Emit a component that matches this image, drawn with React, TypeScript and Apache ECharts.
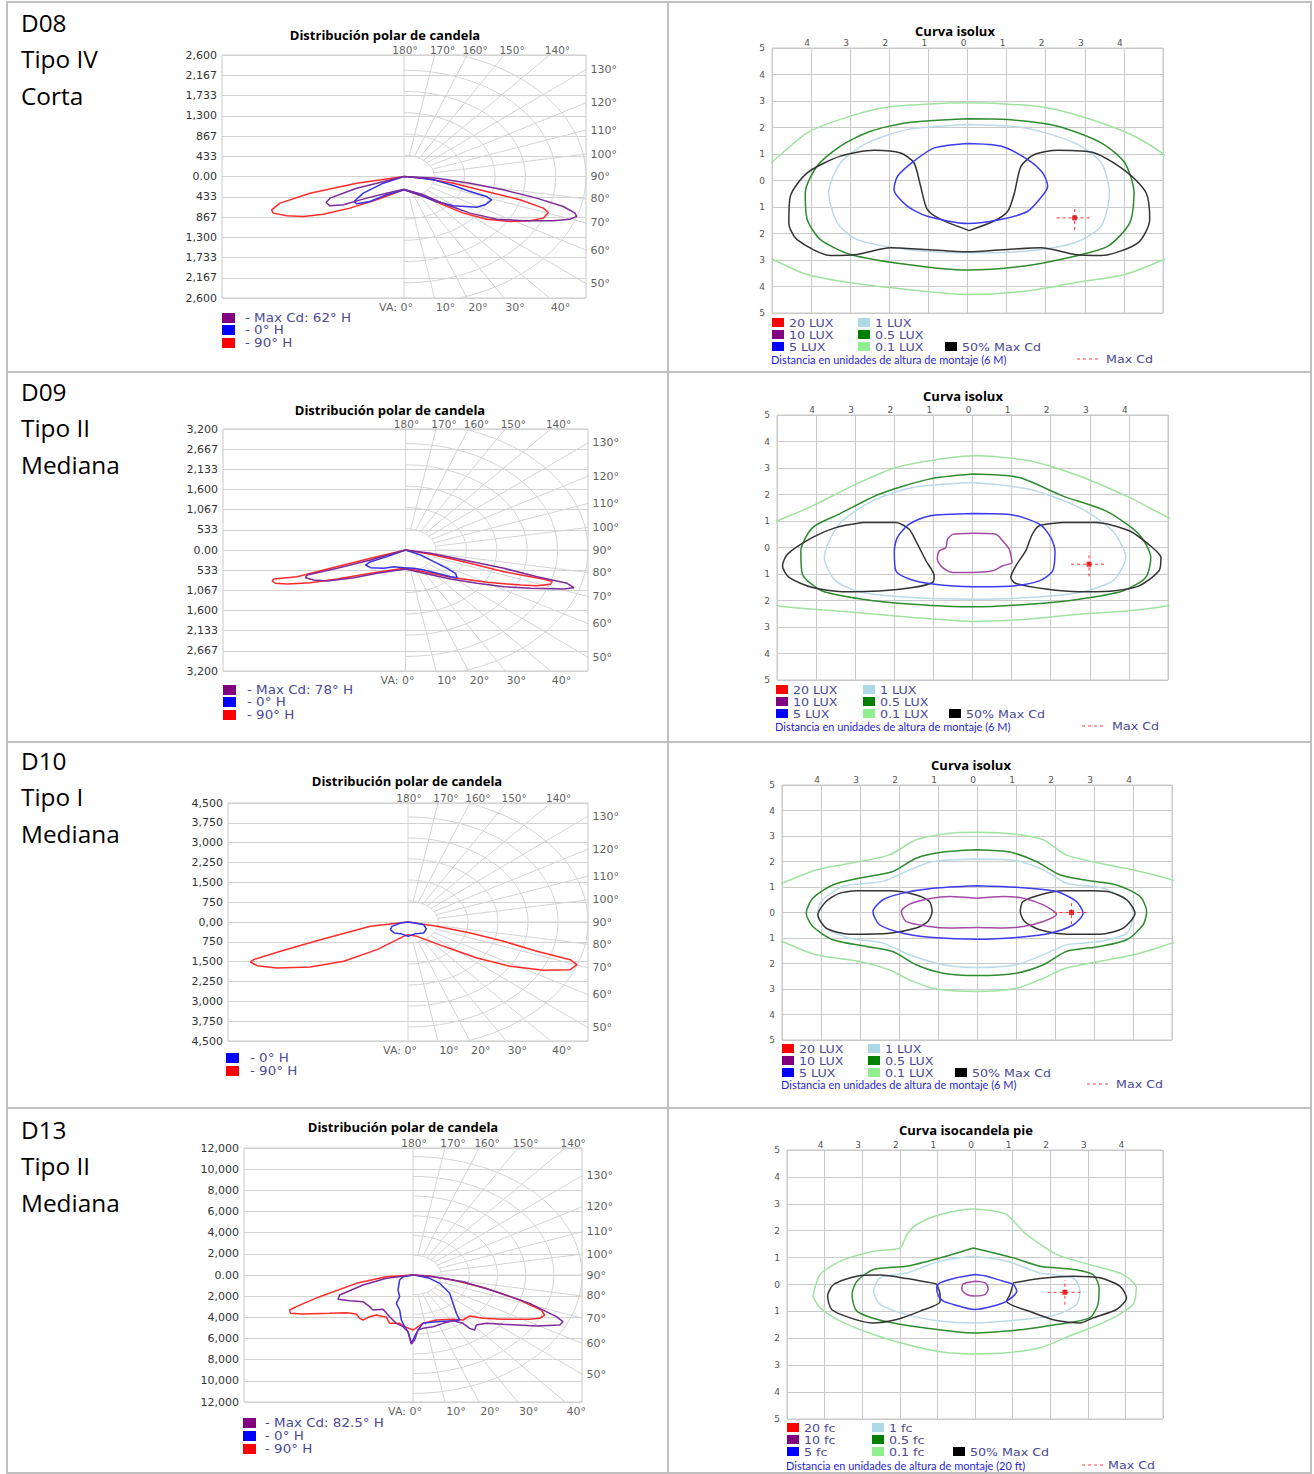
import React, { useEffect, useRef } from "react";
import * as echarts from "echarts";

type Pt = [number, number];

// ---------------- Row labels ----------------
const rowLabels: string[][] = [
  ["D08", "Tipo IV", "Corta"],
  ["D09", "Tipo II", "Mediana"],
  ["D10", "Tipo I", "Mediana"],
  ["D13", "Tipo II", "Mediana"],
];

// ---------------- Polar candela tick labels (top to bottom) ----------------
const d08CdTicks = ["2,600", "2,167", "1,733", "1,300", "867", "433", "0.00", "433", "867", "1,300", "1,733", "2,167", "2,600"];
const d09CdTicks = ["3,200", "2,667", "2,133", "1,600", "1,067", "533", "0.00", "533", "1,067", "1,600", "2,133", "2,667", "3,200"];
const d10CdTicks = ["4,500", "3,750", "3,000", "2,250", "1,500", "750", "0,00", "750", "1,500", "2,250", "3,000", "3,750", "4,500"];
const d13CdTicks = ["12,000", "10,000", "8,000", "6,000", "4,000", "2,000", "0.00", "2,000", "4,000", "6,000", "8,000", "10,000", "12,000"];

const polarBottomAngles = [0, 10, 20, 30, 40];
const polarTopAngles = [180, 170, 160, 150, 140];
const polarRightAngles = [130, 120, 110, 100, 90, 80, 70, 60, 50];

// ---------------- Polar curves (horizontal cd, vertical cd) ----------------
const d08Polar90: Pt[] = [[0,0],[-710,-143],[-1410,-357],[-1860,-570],[-1985,-713],[-1960,-784],[-1760,-841],[-1510,-856],[-1210,-806],[-810,-677],[-410,-499],[0,-285],[290,-428],[590,-606],[890,-784],[1240,-913],[1590,-963],[1890,-948],[2090,-891],[2165,-770],[2090,-677],[1740,-499],[1240,-321],[740,-143],[290,-36],[0,0]];
const d08PolarMax: Pt[] = [[0,0],[-710,-250],[-1110,-463],[-1170,-556],[-1110,-627],[-910,-606],[-560,-463],[-260,-357],[0,-271],[290,-392],[640,-606],[990,-784],[1390,-913],[1790,-948],[2240,-948],[2490,-913],[2590,-856],[2565,-784],[2390,-642],[1990,-463],[1490,-285],[990,-143],[490,-36],[0,0]];
const d08Polar0: Pt[] = [[0,0],[-310,-143],[-610,-357],[-750,-535],[-710,-585],[-510,-535],[-260,-392],[0,-285],[240,-392],[490,-535],[740,-627],[1090,-656],[1215,-606],[1315,-499],[1240,-428],[990,-321],[740,-193],[440,-71],[140,-14],[0,0]];

const d09Polar90: Pt[] = [[0,0],[-648,-220],[-1388,-485],[-2005,-705],[-2437,-767],[-2468,-820],[-2406,-882],[-2190,-899],[-1758,-864],[-1265,-767],[-648,-617],[0,-476],[339,-573],[895,-732],[1512,-855],[2129,-926],[2437,-943],[2684,-908],[2715,-837],[2561,-776],[1820,-573],[1080,-309],[463,-115],[0,0]];
const d09PolarMax: Pt[] = [[0,0],[-648,-264],[-1265,-485],[-1820,-661],[-1851,-732],[-1697,-793],[-1450,-820],[-956,-732],[-524,-617],[0,-502],[339,-617],[833,-767],[1327,-882],[1820,-970],[2314,-1014],[2931,-1031],[3116,-996],[2992,-882],[2437,-705],[1820,-485],[1080,-264],[463,-88],[0,0]];
const d09Polar0: Pt[] = [[0,0],[-339,-176],[-648,-309],[-740,-397],[-648,-467],[-401,-485],[-216,-441],[-31,-467],[154,-485],[339,-529],[586,-617],[833,-705],[956,-732],[925,-617],[771,-485],[524,-309],[278,-132],[0,0]];

const d10Polar90: Pt[] = [[0,0],[-997,-164],[-2320,-668],[-3378,-1109],[-4084,-1424],[-4172,-1512],[-3995,-1651],[-3466,-1739],[-2584,-1701],[-1702,-1487],[-820,-1046],[-115,-542],[0,-479],[238,-542],[944,-920],[1826,-1361],[2708,-1676],[3590,-1827],[4295,-1802],[4472,-1613],[4295,-1424],[3413,-1109],[2531,-731],[1649,-416],[767,-164],[0,0]];
const d10Polar0: Pt[] = [[0,0],[-203,-38],[-423,-164],[-467,-290],[-362,-416],[-203,-441],[0,-542],[194,-441],[415,-416],[485,-265],[415,-101],[194,-38],[0,0]];

const d13Polar90: Pt[] = [[0,0],[-1764,-158],[-3749,-788],[-6174,-2048],[-7718,-2993],[-8159,-3308],[-8114,-3623],[-7277,-3686],[-5513,-3623],[-4410,-3560],[-3749,-3686],[-3528,-4095],[-3308,-4253],[-2867,-3938],[-2426,-3780],[-1764,-4001],[-1544,-4568],[-882,-4568],[-551,-4883],[0,-5198],[662,-4568],[1544,-4253],[2646,-4190],[3308,-4253],[3749,-3875],[4631,-4095],[5954,-4190],[7718,-4190],[8379,-4095],[8710,-3780],[8489,-3308],[7056,-2363],[4851,-1260],[2646,-473],[1103,-95],[0,0]];
const d13PolarMax: Pt[] = [[0,0],[-1764,-315],[-3308,-945],[-4851,-1890],[-4961,-2300],[-4190,-2426],[-3308,-2520],[-2867,-2993],[-2646,-3308],[-1985,-3245],[-1544,-3938],[-1103,-4568],[-662,-4883],[-331,-5355],[-110,-6521],[110,-6143],[331,-5198],[662,-5040],[1323,-4883],[1985,-4568],[2646,-4316],[3308,-4568],[3749,-5040],[4079,-5198],[4190,-4725],[4851,-4568],[5954,-4662],[8159,-4820],[9702,-4725],[9923,-4410],[9482,-3938],[7718,-2678],[5513,-1575],[3308,-630],[1323,-158],[0,0]];
const d13Polar0: Pt[] = [[0,0],[-662,-158],[-882,-473],[-992,-1418],[-882,-2048],[-1103,-2678],[-882,-3308],[-772,-4253],[-551,-4883],[-331,-5355],[-110,-6458],[110,-5828],[331,-5198],[662,-4568],[1544,-4410],[2646,-4316],[3087,-4253],[2867,-3623],[2646,-2678],[2426,-1733],[1764,-788],[1103,-315],[331,-63],[0,0]];

// ---------------- Isolux tick labels ----------------
const isoXTicks = ["", "4", "3", "2", "1", "0", "1", "2", "3", "4", ""]; // value -5..5
const isoYTicks = ["5", "4", "3", "2", "1", "0", "1", "2", "3", "4", "5"]; // value 5..-5

// ---------------- Isolux contours (mounting heights) ----------------
const d08Iso01: Pt[] = [[-5.4,0.4],[-4.98,0.73],[-4.10,1.80],[-2.99,2.43],[-1.97,2.78],[0,2.93],[1.88,2.78],[3.16,2.30],[4.27,1.67],[5.03,0.98],[5.4,0.5],[5.4,-2.7],[5.03,-2.98],[4.02,-3.55],[2.74,-3.86],[1.45,-4.18],[0,-4.30],[-1.54,-4.11],[-2.99,-3.86],[-4.10,-3.55],[-4.98,-2.98],[-5.4,-2.7]];
const d08Iso05: Pt[] = [[0,2.33],[-1.54,2.18],[-2.5,1.85],[-3.25,1.30],[-3.85,0.54],[-4.15,-0.47],[-4.10,-1.47],[-3.76,-2.23],[-2.99,-2.79],[-1.54,-3.17],[0,-3.38],[1.45,-3.23],[2.74,-2.86],[3.59,-2.48],[4.15,-1.60],[4.26,-0.47],[4.02,0.67],[3.42,1.42],[2.31,2.05],[1.03,2.30]];
const d08Iso1: Pt[] = [[0,2.11],[-1.54,1.92],[-2.56,1.42],[-3.25,0.67],[-3.55,-0.47],[-3.33,-1.60],[-2.82,-2.23],[-1.54,-2.60],[0,-2.73],[1.45,-2.67],[2.74,-2.35],[3.42,-1.72],[3.63,-0.47],[3.42,0.67],[2.74,1.42],[1.45,1.99]];
const d08IsoHalf: Pt[] = [[0.04,-1.89],[-0.68,-1.47],[-1.03,-1.09],[-1.20,-0.21],[-1.37,0.67],[-1.71,1.04],[-2.39,1.14],[-3.25,0.92],[-4.10,0.29],[-4.53,-0.59],[-4.57,-1.60],[-4.36,-2.23],[-3.50,-2.83],[-2.82,-2.79],[-1.97,-2.54],[-1.11,-2.60],[0,-2.69],[1.03,-2.60],[1.88,-2.54],[2.74,-2.79],[3.42,-2.83],[4.36,-2.35],[4.66,-1.47],[4.57,-0.47],[4.10,0.29],[3.25,1.04],[2.31,1.14],[1.71,0.98],[1.37,0.54],[1.20,-0.47],[1.03,-1.16],[0.68,-1.53]];
const d08Iso5: Pt[] = [[0,1.40],[-0.85,1.23],[-1.37,0.73],[-1.79,0.16],[-1.88,-0.34],[-1.54,-0.97],[-1.03,-1.35],[0,-1.62],[0.85,-1.47],[1.54,-1.16],[1.97,-0.47],[2.05,-0.21],[1.92,0.29],[1.54,0.79],[0.85,1.30]];
const d08MaxCd: Pt = [2.74, -1.41];

const d09Iso01: Pt[] = [[-5.4,0.8],[-4.99,1.01],[-4.09,1.57],[-2.98,2.39],[-1.96,3.02],[-0.68,3.37],[0.17,3.46],[1.45,3.27],[2.73,2.70],[4.01,1.89],[5.01,1.13],[5.4,0.9],[5.4,-2.0],[5.01,-2.20],[4.01,-2.39],[2.73,-2.52],[1.45,-2.70],[0,-2.79],[-1.53,-2.64],[-2.98,-2.45],[-4.09,-2.33],[-4.99,-2.20],[-5.4,-2.0]];
const d09Iso05: Pt[] = [[0,2.77],[-1.11,2.58],[-2.39,2.01],[-3.41,1.26],[-4.09,0.75],[-4.39,-0.13],[-4.35,-1.01],[-3.84,-1.64],[-2.81,-1.95],[-1.53,-2.14],[0,-2.24],[1.45,-2.14],[2.73,-1.95],[3.84,-1.64],[4.43,-1.13],[4.56,-0.38],[4.26,0.50],[3.41,1.38],[2.30,1.95],[1.19,2.64]];
const d09Iso1: Pt[] = [[0,2.45],[-1.53,2.26],[-2.56,1.76],[-3.41,0.88],[-3.79,-0.38],[-3.50,-1.26],[-2.81,-1.70],[-1.53,-1.89],[0,-1.95],[1.45,-1.89],[2.73,-1.70],[3.58,-1.26],[3.92,-0.38],[3.58,0.63],[2.73,1.51],[1.45,2.20]];
const d09IsoHalfL: Pt[] = [[-2.81,0.94],[-1.96,0.94],[-1.62,0.69],[-1.45,0.25],[-1.19,-0.50],[-0.98,-1.07],[-1.02,-1.32],[-1.53,-1.51],[-2.39,-1.64],[-3.24,-1.67],[-4.09,-1.51],[-4.69,-1.13],[-4.86,-0.69],[-4.73,-0.25],[-4.09,0.38],[-3.50,0.75]];
const d09IsoHalfR: Pt[] = [[2.30,0.94],[1.71,0.82],[1.53,0.50],[1.36,-0.13],[1.11,-0.69],[0.98,-1.13],[1.11,-1.36],[1.88,-1.57],[2.73,-1.67],[3.58,-1.64],[4.26,-1.45],[4.77,-0.88],[4.82,-0.38],[4.60,0],[4.01,0.63],[3.15,0.94]];
const d09Iso5: Pt[] = [[0,1.28],[-1.11,1.19],[-1.62,0.88],[-1.92,0.38],[-2.00,-0.13],[-1.96,-0.88],[-1.62,-1.19],[-1.02,-1.38],[0,-1.48],[1.02,-1.45],[1.71,-1.26],[2.05,-0.88],[2.11,-0.13],[2.00,0.38],[1.71,0.88],[1.02,1.23]];
const d09Iso10: Pt[] = [[-0.51,0.50],[0,0.54],[0.60,0.50],[0.77,0.25],[0.94,-0.06],[1.01,-0.57],[0.77,-0.69],[0.51,-0.88],[0,-0.94],[-0.51,-0.94],[-0.77,-0.75],[-0.90,-0.44],[-0.85,-0.13],[-0.68,0],[-0.64,0.31]];
const d09MaxCd: Pt = [2.98, -0.63];

const d10Iso01: Pt[] = [[-5.4,1.0],[-5.01,1.15],[-4.13,1.67],[-3.01,2.00],[-2.24,2.26],[-1.56,2.85],[-0.70,3.11],[0,3.15],[1.01,3.07],[1.70,2.85],[2.29,2.26],[3.15,1.93],[4.01,1.67],[5.0,1.28],[5.4,1.0],[5.4,-1.0],[5.0,-1.20],[4.01,-1.66],[2.29,-2.18],[1.70,-2.58],[1.01,-2.97],[0,-3.10],[-1.13,-2.97],[-1.82,-2.58],[-2.24,-2.25],[-3.01,-1.92],[-4.13,-1.66],[-5.01,-1.14],[-5.4,-1.0]];
const d10Iso05: Pt[] = [[0,2.46],[-0.87,2.37],[-1.56,2.13],[-2.16,1.61],[-3.01,1.35],[-3.70,1.08],[-4.21,0.56],[-4.38,-0.03],[-4.21,-0.55],[-3.70,-1.07],[-2.84,-1.33],[-2.16,-1.53],[-1.56,-2.05],[-0.87,-2.38],[0,-2.47],[1.01,-2.38],[1.70,-2.05],[2.29,-1.53],[3.15,-1.33],[3.84,-1.07],[4.26,-0.48],[4.35,0.04],[4.18,0.63],[3.58,1.08],[2.72,1.28],[2.12,1.48],[1.52,2.00],[0.84,2.37]];
const d10Iso1: Pt[] = [[0,2.10],[-1.13,2.00],[-1.73,1.67],[-2.41,1.22],[-3.44,1.02],[-4.00,0.43],[-4.08,-0.09],[-3.87,-0.61],[-3.27,-1.01],[-2.41,-1.20],[-1.73,-1.66],[-0.87,-2.05],[0,-2.16],[1.01,-2.05],[1.70,-1.66],[2.29,-1.27],[3.15,-1.14],[3.84,-0.81],[4.01,-0.09],[3.88,0.43],[3.24,0.95],[2.29,1.15],[1.70,1.67],[1.01,2.03]];
const d10IsoHalfL: Pt[] = [[-3.10,0.85],[-2.24,0.85],[-1.56,0.69],[-1.22,0.43],[-1.15,0.04],[-1.26,-0.35],[-1.56,-0.61],[-2.24,-0.81],[-3.27,-0.85],[-3.87,-0.61],[-4.08,-0.09],[-3.87,0.43],[-3.53,0.75]];
const d10IsoHalfR: Pt[] = [[2.98,0.85],[2.21,0.85],[1.61,0.69],[1.18,0.43],[1.11,0.04],[1.22,-0.35],[1.61,-0.68],[2.29,-0.85],[3.15,-0.85],[3.75,-0.61],[4.05,-0.03],[3.84,0.50],[3.41,0.80]];
const d10Iso5: Pt[] = [[0,1.05],[-1.13,0.95],[-1.90,0.76],[-2.41,0.50],[-2.67,0.04],[-2.50,-0.48],[-1.90,-0.81],[-1.13,-0.98],[0,-1.05],[1.01,-0.98],[1.87,-0.81],[2.47,-0.48],[2.72,-0.03],[2.55,0.43],[2.04,0.82],[1.01,0.99]];
const d10Iso10: Pt[] = [[0,0.56],[-0.70,0.63],[-1.22,0.54],[-1.73,0.33],[-1.94,0.04],[-1.82,-0.35],[-1.22,-0.55],[-0.70,-0.61],[0,-0.59],[0.67,-0.61],[1.18,-0.55],[1.70,-0.35],[2.04,-0.07],[1.70,0.30],[1.18,0.56],[0.67,0.63]];
const d10MaxCd: Pt = [2.42, 0];

const d13Iso01: Pt[] = [[-4.31,-0.43],[-4.12,0.37],[-3.58,0.87],[-2.70,1.24],[-1.99,1.36],[-1.81,1.86],[-1.55,2.23],[-0.93,2.60],[-0.04,2.81],[0.49,2.73],[0.84,2.60],[1.11,2.23],[1.37,1.86],[2.17,1.12],[3.05,0.74],[3.94,0.37],[4.29,-0.12],[4.20,-0.74],[3.50,-1.36],[2.61,-1.86],[1.73,-2.35],[0.84,-2.54],[-0.04,-2.58],[-0.93,-2.50],[-1.81,-2.23],[-2.70,-1.86],[-3.58,-1.36],[-4.12,-0.87]];
const d13Iso05: Pt[] = [[-0.04,1.36],[-0.93,0.99],[-1.81,0.68],[-2.70,0.56],[-3.14,0.12],[-3.27,-0.37],[-3.14,-0.99],[-2.43,-1.36],[-1.37,-1.61],[-0.04,-1.80],[1.28,-1.67],[2.17,-1.49],[3.05,-1.24],[3.27,-0.74],[3.30,-0.12],[3.14,0.37],[2.61,0.56],[1.73,0.68],[1.02,0.99]];
const d13Iso1: Pt[] = [[-0.04,1.05],[-0.93,0.87],[-1.81,0.43],[-2.52,0.25],[-2.70,-0.25],[-2.52,-0.74],[-1.81,-1.12],[-0.93,-1.36],[-0.04,-1.43],[1.28,-1.30],[2.17,-1.12],[2.70,-0.74],[2.79,-0.25],[2.61,0.25],[1.73,0.43],[0.84,0.87]];
const d13IsoHalfL: Pt[] = [[-1.02,0.02],[-1.81,0.22],[-2.52,0.35],[-3.14,0.31],[-3.76,0],[-3.92,-0.43],[-3.81,-0.93],[-3.32,-1.24],[-2.74,-1.43],[-2.08,-1.30],[-1.46,-0.99],[-0.93,-0.64],[-0.93,-0.37]];
const d13IsoHalfR: Pt[] = [[1.02,0.06],[1.73,0.22],[2.61,0.31],[3.32,0.25],[3.85,-0.06],[4.03,-0.50],[3.76,-0.93],[3.14,-1.24],[2.79,-1.43],[2.17,-1.34],[1.55,-1.05],[0.84,-0.62],[0.93,-0.37]];
const d13Iso5: Pt[] = [[0,0.37],[-0.49,0.25],[-0.93,0.06],[-1.02,-0.12],[-0.97,-0.43],[-0.84,-0.62],[-0.58,-0.74],[0,-0.93],[0.49,-0.80],[0.84,-0.62],[1.11,-0.25],[1.02,0],[0.75,0.12],[0.31,0.31]];
const d13Iso10: Pt[] = [[0,0.12],[-0.31,0.02],[-0.35,-0.19],[-0.22,-0.37],[0,-0.43],[0.27,-0.37],[0.35,-0.15],[0.27,0.06]];
const d13MaxCd: Pt = [2.39, -0.29];

// ---------------- Legend labels ----------------
const luxLegend = ["20 LUX", "10 LUX", "5 LUX", "1 LUX", "0.5 LUX", "0.1 LUX", "50% Max Cd"];
const fcLegend = ["20 fc", "10 fc", "5 fc", "1 fc", "0.5 fc", "0.1 fc", "50% Max Cd"];

// ---------------- Styles ----------------
const C_RED = "#ff2a2a";
const C_BLUE = "#3434e6";
const C_PURPLE = "#7d2a9a";
const ISO = {
  c01: "#9fe39f",
  c05: "#2e8b2e",
  c1: "#b9dbe8",
  half: "#333333",
  c5: "#3b3bef",
  c10: "#a24aa6",
};
const LEG_SQ = ["#ff0000", "#800080", "#0000ff", "#add8e6", "#008000", "#90ee90", "#000000"];
const TXT_LEG = "#4a4a96";
const TITLE_FONT = "bold 13px 'Open Sans'";

const polarPanels = [
  { left: 222, top: 55, width: 364, height: 243, M: 2600, X: 2730, ticks: d08CdTicks,
    curves: [{ d: d08Polar90, c: C_RED }, { d: d08Polar0, c: C_BLUE }, { d: d08PolarMax, c: C_PURPLE }],
    legend: [{ t: "- Max Cd: 62° H", c: "#800080" }, { t: "- 0° H", c: "#0000ff" }, { t: "- 90° H", c: "#ff0000" }],
    legX: 222, legTX: 245, legY: [318, 330, 343], titleX: 385, titleY: 35 },
  { left: 223, top: 429, width: 365, height: 242, M: 3200, X: 3378, ticks: d09CdTicks,
    curves: [{ d: d09Polar90, c: C_RED }, { d: d09Polar0, c: C_BLUE }, { d: d09PolarMax, c: C_PURPLE }],
    legend: [{ t: "- Max Cd: 78° H", c: "#800080" }, { t: "- 0° H", c: "#0000ff" }, { t: "- 90° H", c: "#ff0000" }],
    legX: 223, legTX: 247, legY: [690, 702, 715], titleX: 390, titleY: 410 },
  { left: 228, top: 803, width: 360, height: 238, M: 4500, X: 4765, ticks: d10CdTicks,
    curves: [{ d: d10Polar90, c: C_RED }, { d: d10Polar0, c: C_BLUE }],
    legend: [{ t: "- 0° H", c: "#0000ff" }, { t: "- 90° H", c: "#ff0000" }],
    legX: 226, legTX: 250, legY: [1058, 1071], titleX: 407, titleY: 781 },
  { left: 244, top: 1148, width: 338, height: 254, M: 12000, X: 11180, ticks: d13CdTicks,
    curves: [{ d: d13Polar90, c: C_RED }, { d: d13Polar0, c: C_BLUE }, { d: d13PolarMax, c: C_PURPLE }],
    legend: [{ t: "- Max Cd: 82.5° H", c: "#800080" }, { t: "- 0° H", c: "#0000ff" }, { t: "- 90° H", c: "#ff0000" }],
    legX: 243, legTX: 265, legY: [1423, 1436, 1449], titleX: 403, titleY: 1127 },
];

const isoPanels = [
  { left: 772, top: 48, width: 391, height: 265, title: "Curva isolux", titleX: 955, titleY: 31,
    contours: [
      { d: d08Iso01, c: ISO.c01 }, { d: d08Iso1, c: ISO.c1 }, { d: d08Iso05, c: ISO.c05 },
      { d: d08IsoHalf, c: ISO.half }, { d: d08Iso5, c: ISO.c5 },
    ], maxCd: d08MaxCd, legend: luxLegend,
    legX: 772, legRows: [323, 335, 347], col2: 858, col3: 945, distY: 359, dashX: 1077, maxTX: 1106,
    dist: "Distancia en unidades de altura de montaje (6 M)" },
  { left: 777, top: 415, width: 391, height: 265, title: "Curva isolux", titleX: 963, titleY: 396,
    contours: [
      { d: d09Iso01, c: ISO.c01 }, { d: d09Iso1, c: ISO.c1 }, { d: d09Iso05, c: ISO.c05 },
      { d: d09IsoHalfL, c: ISO.half }, { d: d09IsoHalfR, c: ISO.half }, { d: d09Iso5, c: ISO.c5 }, { d: d09Iso10, c: ISO.c10 },
    ], maxCd: d09MaxCd, legend: luxLegend,
    legX: 776, legRows: [690, 702, 714], col2: 863, col3: 949, distY: 726, dashX: 1082, maxTX: 1112,
    dist: "Distancia en unidades de altura de montaje (6 M)" },
  { left: 782, top: 785, width: 390, height: 255, title: "Curva isolux", titleX: 971, titleY: 765,
    contours: [
      { d: d10Iso01, c: ISO.c01 }, { d: d10Iso1, c: ISO.c1 }, { d: d10Iso05, c: ISO.c05 },
      { d: d10IsoHalfL, c: ISO.half }, { d: d10IsoHalfR, c: ISO.half }, { d: d10Iso5, c: ISO.c5 }, { d: d10Iso10, c: ISO.c10 },
    ], maxCd: d10MaxCd, legend: luxLegend,
    legX: 782, legRows: [1049, 1061, 1073], col2: 868, col3: 955, distY: 1084, dashX: 1087, maxTX: 1116,
    dist: "Distancia en unidades de altura de montaje (6 M)" },
  { left: 787, top: 1150, width: 376, height: 269, title: "Curva isocandela pie", titleX: 966, titleY: 1130,
    contours: [
      { d: d13Iso01, c: ISO.c01 }, { d: d13Iso1, c: ISO.c1 }, { d: d13Iso05, c: ISO.c05 },
      { d: d13IsoHalfL, c: ISO.half }, { d: d13IsoHalfR, c: ISO.half }, { d: d13Iso5, c: ISO.c5 }, { d: d13Iso10, c: ISO.c10 },
    ], maxCd: d13MaxCd, legend: fcLegend,
    legX: 787, legRows: [1428, 1440, 1452], col2: 872, col3: 953, distY: 1465, dashX: 1082, maxTX: 1108,
    dist: "Distancia en unidades de altura de montaje (20 ft)" },
];

const rowTops = [23, 392, 761, 1130];
const tableRowLines = [2, 372, 742, 1108, 1473];
const tableColLines = [7, 668, 1311];

const rad = (d: number) => (d * Math.PI) / 180;

function polarGrid(M: number, X: number) {
  const data: any[] = [];
  const r1 = X / 6;
  for (let k = 1; k <= 6; k++) {
    const R = r1 * k;
    for (let a = 0; a <= 180; a += 3) {
      data.push([R * Math.sin(rad(a)), -R * Math.cos(rad(a))]);
    }
    data.push(["-", "-"]);
  }
  for (let a = 10; a < 180; a += 10) {
    data.push([r1 * Math.sin(rad(a)), -r1 * Math.cos(rad(a))]);
    data.push([4 * X * Math.sin(rad(a)), -4 * X * Math.cos(rad(a))]);
    data.push(["-", "-"]);
  }
  data.push([0, -M], [0, M]);
  return data;
}

function txt(x: number, y: number, text: string, font: string, fill: string, align = "left", scaleX = 1) {
  return {
    type: "text", x, y, scaleX, silent: true, z: 10,
    style: { text, font, fill, align, verticalAlign: "middle", textAlign: align, textVerticalAlign: "middle" },
  };
}

function buildOption() {
  const grid: any[] = [];
  const xAxis: any[] = [];
  const yAxis: any[] = [];
  const series: any[] = [];
  const graphic: any[] = [];
  const tickFont = { fontFamily: "DejaVu Sans", fontSize: 11, color: "#333" };

  // table
  tableRowLines.forEach((y) => graphic.push({ type: "line", silent: true, shape: { x1: 6, y1: y, x2: 1312, y2: y }, style: { stroke: "#c0c0c0", lineWidth: 2 } }));
  tableColLines.forEach((x) => graphic.push({ type: "line", silent: true, shape: { x1: x, y1: 1, x2: x, y2: 1474 }, style: { stroke: "#c0c0c0", lineWidth: 2 } }));
  rowLabels.forEach((lines, i) => {
    lines.forEach((t, j) => graphic.push(txt(21, rowTops[i] + j * 36.5, t, "23px 'Open Sans'", "#000", "left", 1.06)));
  });

  polarPanels.forEach((p) => {
    const gi = grid.length;
    const step = p.M / 6;
    grid.push({ left: p.left, top: p.top, width: p.width, height: p.height, show: true, borderColor: "#c8c8c8", borderWidth: 1 });
    xAxis.push({ gridIndex: gi, type: "value", min: -p.X, max: p.X, show: false });
    yAxis.push({
      gridIndex: gi, type: "value", min: -p.M, max: p.M, interval: step,
      axisLine: { show: false }, axisTick: { show: false },
      axisLabel: { ...tickFont, margin: 5, formatter: (v: number) => p.ticks[Math.round((p.M - v) / step)] ?? "" },
      splitLine: { lineStyle: { color: "#d2d2d2", width: 1 } },
    });
    series.push({
      type: "line", xAxisIndex: gi, yAxisIndex: gi, data: polarGrid(p.M, p.X), symbol: "none",
      connectNulls: false, lineStyle: { color: "#d4d4d4", width: 1 }, silent: true, z: 1,
    });
    p.curves.forEach((c) =>
      series.push({ type: "line", xAxisIndex: gi, yAxisIndex: gi, data: c.d, symbol: "none", lineStyle: { color: c.c, width: 1.5 }, silent: true, z: 3 })
    );
    const labels: any[] = [];
    polarBottomAngles.forEach((va) =>
      labels.push({ value: [p.M * Math.tan(rad(va)), -p.M], label: { position: "bottom", distance: 3, offset: va === 0 ? [-8, 0] : [11, 0], formatter: va === 0 ? "VA: 0°" : `${va}°` } })
    );
    polarTopAngles.forEach((va) =>
      labels.push({ value: [p.M * Math.tan(rad(180 - va)), p.M], label: { position: "top", distance: 0, offset: va === 180 ? [1, 1] : [8, 1], fontSize: 10.5, formatter: `${va}°` } })
    );
    polarRightAngles.forEach((va) =>
      labels.push({ value: [p.X, (-p.X * Math.cos(rad(va))) / Math.sin(rad(va))], label: { position: "right", distance: 4, formatter: `${va}°` } })
    );
    series.push({
      type: "scatter", xAxisIndex: gi, yAxisIndex: gi, data: labels, symbolSize: 1, clip: false, silent: true,
      itemStyle: { color: "rgba(0,0,0,0)" }, label: { show: true, ...tickFont }, z: 5,
    });
    graphic.push(txt(p.titleX, p.titleY, "Distribución polar de candela", TITLE_FONT, "#000", "center"));
    p.legend.forEach((l, k) => {
      graphic.push({ type: "rect", silent: true, shape: { x: p.legX, y: p.legY[k] - 5, width: 13, height: 10 }, style: { fill: l.c } });
      graphic.push(txt(p.legTX, p.legY[k], l.t, "12px 'DejaVu Sans'", TXT_LEG, "left", 1.12));
    });
  });

  isoPanels.forEach((p) => {
    const gi = grid.length;
    grid.push({ left: p.left, top: p.top, width: p.width, height: p.height, show: true, borderColor: "#c8c8c8", borderWidth: 1 });
    const isoLabel = { fontFamily: "DejaVu Sans", fontSize: 9, color: "#555" };
    xAxis.push({
      gridIndex: gi, type: "value", min: -5, max: 5, interval: 1, position: "top",
      axisLine: { show: false }, axisTick: { show: false },
      axisLabel: { ...isoLabel, margin: 1, padding: [0, 8, 0, 0], formatter: (v: number) => isoXTicks[Math.round(v) + 5] ?? "" },
      splitLine: { lineStyle: { color: "#c9c9c9", width: 1 } },
    });
    yAxis.push({
      gridIndex: gi, type: "value", min: -5, max: 5, interval: 1,
      axisLine: { show: false }, axisTick: { show: false },
      axisLabel: { ...isoLabel, margin: 7, formatter: (v: number) => isoYTicks[5 - Math.round(v)] ?? "" },
      splitLine: { lineStyle: { color: "#c9c9c9", width: 1 } },
    });
    p.contours.forEach((c) =>
      series.push({
        type: "line", xAxisIndex: gi, yAxisIndex: gi, data: [...c.d, c.d[0]], symbol: "none", smooth: 0.25,
        lineStyle: { color: c.c, width: 1.5 }, silent: true, z: 3,
      })
    );
    const [mx, my] = p.maxCd;
    series.push({
      type: "line", xAxisIndex: gi, yAxisIndex: gi, symbol: "none", connectNulls: false, silent: true, z: 4,
      data: [[mx - 0.46, my], [mx + 0.46, my], ["-", "-"], [mx, my - 0.46], [mx, my + 0.46]],
      lineStyle: { color: "#ff3030", width: 1, type: [3, 3] },
    });
    series.push({
      type: "scatter", xAxisIndex: gi, yAxisIndex: gi, data: [p.maxCd], symbol: "rect", symbolSize: 5,
      itemStyle: { color: "#e00000" }, silent: true, z: 5,
    });
    graphic.push(txt(p.titleX, p.titleY, p.title, TITLE_FONT, "#000", "center"));
    const cols = [p.legX, p.col2, p.col3];
    const slots = [[0, 0], [0, 1], [0, 2], [1, 0], [1, 1], [1, 2], [2, 2]];
    p.legend.forEach((t, k) => {
      const [ci, ri] = slots[k];
      const x = cols[ci];
      const y = p.legRows[ri];
      graphic.push({ type: "rect", silent: true, shape: { x, y: y - 5, width: 12, height: 9 }, style: { fill: LEG_SQ[k] } });
      graphic.push(txt(x + 17, y, t, "11px 'DejaVu Sans'", TXT_LEG, "left", 1.15));
    });
    graphic.push(txt(p.legX - 1, p.distY, p.dist, "11px Lato", "#1f1fd6"));
    graphic.push({ type: "line", silent: true, shape: { x1: p.dashX, y1: p.distY, x2: p.dashX + 22, y2: p.distY }, style: { stroke: "#ff4040", lineWidth: 1, lineDash: [3, 3] } });
    graphic.push(txt(p.maxTX, p.distY, "Max Cd", "11px 'DejaVu Sans'", TXT_LEG, "left", 1.15));
  });

  return { animation: false, backgroundColor: "#ffffff", grid, xAxis, yAxis, series, graphic };
}

export default function App() {
  const ref = useRef<HTMLDivElement>(null);
  useEffect(() => {
    if (!ref.current) return;
    const chart = echarts.init(ref.current, undefined, { renderer: "svg" });
    chart.setOption(buildOption() as any);
    return () => chart.dispose();
  }, []);
  return <div ref={ref} style={{ position: "absolute", left: 0, top: 0, width: 1314, height: 1474, background: "#fff" }} />;
}
